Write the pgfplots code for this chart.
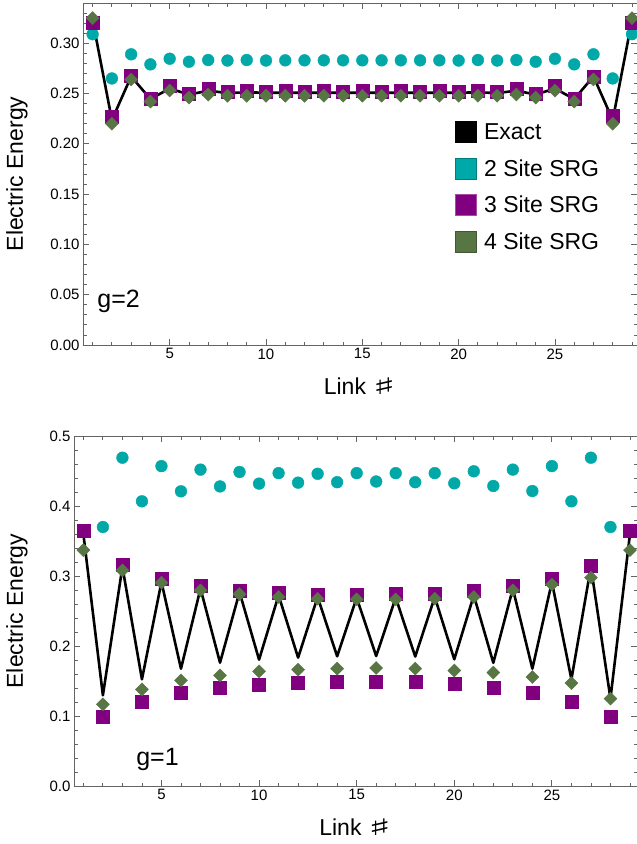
\documentclass[border=0pt]{standalone}
\usepackage{fontspec}
\setmainfont{Liberation Sans}
\newfontfamily\symfont{DejaVu Sans}
\usepackage{pgfplots}
\usepackage{pgfplotstable}
\pgfplotsset{compat=1.18}

\definecolor{srgtwo}{RGB}{0,168,168}
\definecolor{srgthree}{RGB}{128,0,128}
\definecolor{srgfour}{RGB}{88,117,68}
\definecolor{framegray}{RGB}{100,100,100}

% electric energy per link, g = 2
\pgfplotstableread{
x  exact   two     three   four
1  0.323   0.309   0.320   0.325
2  0.2237  0.265   0.227   0.220
3  0.267   0.289   0.268   0.264
4  0.2445  0.279   0.245   0.242
5  0.255   0.2846  0.258   0.253
6  0.249   0.2816  0.2495  0.246
7  0.2528  0.2833  0.255   0.249
8  0.2505  0.2828  0.2518  0.2478
9  0.2512  0.2833  0.2528  0.2478
10 0.2508  0.2828  0.2518  0.2478
11 0.2508  0.2830  0.2528  0.2478
12 0.2508  0.2830  0.2518  0.2478
13 0.2508  0.2830  0.2528  0.2478
14 0.2508  0.2830  0.2518  0.2478
15 0.2508  0.2830  0.2528  0.2478
16 0.2508  0.2830  0.2518  0.2478
17 0.2508  0.2830  0.2528  0.2478
18 0.2508  0.2830  0.2518  0.2478
19 0.2508  0.2830  0.2528  0.2478
20 0.2508  0.2828  0.2518  0.2478
21 0.2512  0.2833  0.2528  0.2478
22 0.2505  0.2828  0.2518  0.2478
23 0.2528  0.2833  0.255   0.249
24 0.249   0.2816  0.2495  0.246
25 0.255   0.2846  0.258   0.253
26 0.2445  0.279   0.245   0.242
27 0.267   0.289   0.267   0.264
28 0.2237  0.265   0.228   0.220
29 0.323   0.309   0.320   0.325
}\gtwo

% electric energy per link, g = 1
\pgfplotstableread{
x  exact   two     three   four
1  0.360   0.365   0.365   0.337
2  0.1296  0.370   0.0986  0.1167
3  0.313   0.469   0.3167  0.308
4  0.1524  0.4067  0.121   0.138
5  0.2914  0.457   0.296   0.2905
6  0.1676  0.421   0.1333  0.151
7  0.282   0.452   0.2857  0.2796
8  0.1762  0.428   0.1405  0.158
9  0.277   0.4486  0.2796  0.274
10 0.1805  0.432   0.1453  0.1638
11 0.2724  0.447   0.2757  0.270
12 0.1834  0.4334  0.148   0.1662
13 0.270   0.446   0.274   0.2676
14 0.1853  0.434   0.1496  0.1677
15 0.269   0.447   0.274   0.2667
16 0.1857  0.435   0.1496  0.1686
17 0.269   0.447   0.2748  0.2667
18 0.185   0.434   0.1486  0.1677
19 0.270   0.447   0.2748  0.2676
20 0.181   0.4324  0.1457  0.165
21 0.2724  0.4496  0.2796  0.270
22 0.176   0.4286  0.1405  0.162
23 0.282   0.452   0.2857  0.2796
24 0.1676  0.4214  0.1333  0.1557
25 0.2914  0.457   0.2957  0.288
26 0.1524  0.4067  0.121   0.147
27 0.313   0.469   0.315   0.2977
28 0.125   0.370   0.0986  0.1248
29 0.360   0.365   0.365   0.337
}\gone

% sharp sign used in the link axis label, widened and brought to cap height
\newcommand{\linksharp}{\smash{\scalebox{1.29}[0.6]{\symfont\fontsize{38}{38}\selectfont ♯}}}

\pgfplotsset{
  energyframe/.style={
    scale only axis,
    clip=false,
    axis line style={framegray, line width=0.9pt},
    every tick/.style={framegray, line width=0.8pt},
    major tick length=6pt,
    minor tick length=3.5pt,
    tick align=inside,
    xtick={5,10,15,20,25},
    minor xtick={1,...,29},
    /pgf/number format/assume math mode=true,
    ticklabel style={font=\fontsize{15}{15}\selectfont, black},
    every axis x label/.style={at={(rel axis cs:0.5,0)}, yshift=-41pt, anchor=center,
      font=\fontsize{23}{23}\selectfont},
    xlabel={Link\ \linksharp},
    ylabel={Electric Energy},
  },
  ylabelshift/.style={every axis y label/.style={at={(rel axis cs:0,0.5)}, xshift=#1,
      rotate=90, anchor=center, font=\fontsize{23}{23}\selectfont}},
  twosite/.style={only marks, mark=*, mark size=5.9pt, color=srgtwo},
  threesite/.style={only marks, mark=square*, mark size=6.5pt, color=srgthree},
  foursite/.style={only marks, mark=square*, mark size=4.6pt, mark options={rotate=45}, color=srgfour},
  exactline/.style={black, line width=2.6pt, line join=round, no markers},
}

\begin{document}
\begin{tikzpicture}[x=1pt,y=1pt]
\useasboundingbox (0,0) rectangle (637,-844);

\begin{axis}[
  energyframe,
  ylabelshift=-66pt,
  at={(83pt,-345pt)}, anchor=south west,
  width=554pt, height=342pt,
  xmin=0.5, xmax=29.26, ymin=0, ymax=0.34,
  ytick={0,0.05,...,0.30},
  minor ytick={0,0.01,...,0.34},
  yticklabel style={/pgf/number format/.cd, fixed, fixed zerofill, precision=2},
  legend style={at={(rel axis cs:0.6715,0.655)}, anchor=north west,
    draw=none, fill=none, inner sep=0pt, row sep=14.7pt, column sep=7pt,
    font=\fontsize{23}{23}\selectfont,
    nodes={inner sep=0pt}},
  legend cell align=left,
  legend image code/.code={\draw[#1, line width=0.9pt] (0pt,-10.5pt) rectangle (21pt,10.5pt);},
]
\addlegendimage{fill=black, draw=black}
\addlegendentry{Exact}
\addlegendimage{fill=srgtwo, draw=srgtwo!75!black}
\addlegendentry{2 Site SRG}
\addlegendimage{fill=srgthree, draw=srgthree!70!white}
\addlegendentry{3 Site SRG}
\addlegendimage{fill=srgfour, draw=srgfour!75!black}
\addlegendentry{4 Site SRG}

\addplot[twosite, forget plot] table[x=x, y=two] {\gtwo};
\addplot[threesite, forget plot] table[x=x, y=three] {\gtwo};
\addplot[foursite, forget plot] table[x=x, y=four] {\gtwo};
\addplot[exactline, forget plot] table[x=x, y=exact] {\gtwo};

\node[anchor=base west, inner sep=0pt, font=\fontsize{25}{25}\selectfont] at (axis cs:1.24,0.0368) {g=2};
\end{axis}

\begin{axis}[
  energyframe,
  ylabelshift=-57pt,
  at={(74pt,-786pt)}, anchor=south west,
  width=563pt, height=350pt,
  xmin=0.52, xmax=29.36, ymin=0, ymax=0.5,
  ytick={0,0.1,...,0.5},
  minor ytick={0,0.02,...,0.5},
  yticklabel style={/pgf/number format/.cd, fixed, fixed zerofill, precision=1},
]
\addplot[twosite] table[x=x, y=two] {\gone};
\addplot[threesite] table[x=x, y=three] {\gone};
\addplot[foursite] table[x=x, y=four] {\gone};
\addplot[exactline] table[x=x, y=exact] {\gone};

\node[anchor=base west, inner sep=0pt, font=\fontsize{25}{25}\selectfont] at (axis cs:3.70,0.0296) {g=1};
\end{axis}
\end{tikzpicture}
\end{document}
